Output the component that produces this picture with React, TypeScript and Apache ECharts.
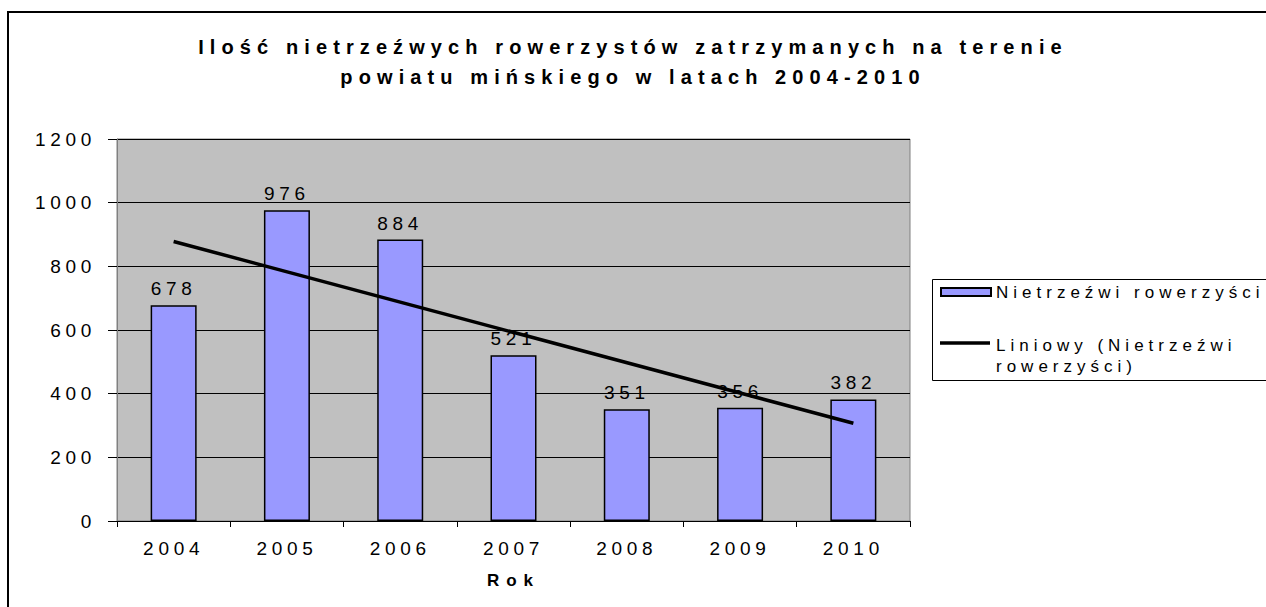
import React, { useEffect, useRef } from "react";
import * as echarts from "echarts";

const titleText = "Ilość nietrzeźwych rowerzystów zatrzymanych na terenie\npowiatu mińskiego w latach 2004-2010";
const years = ["2004", "2005", "2006", "2007", "2008", "2009", "2010"];
const riders = [678, 976, 884, 521, 351, 356, 382];
const trend = [878, null, null, null, null, null, 307];
const barName = "Nietrzeźwi rowerzyści";
const trendName = "Liniowy (Nietrzeźwi rowerzyści)";
const trendLegendLines = ["Liniowy (Nietrzeźwi", "rowerzyści)"];
const xAxisName = "Rok";

const FONT = "'Liberation Sans', Arial, sans-serif";

export default function App() {
  const ref = useRef<HTMLDivElement>(null);
  useEffect(() => {
    if (!ref.current) return;
    const chart = echarts.init(ref.current, null, { renderer: "svg" });
    chart.setOption({
      animation: false,
      backgroundColor: "#ffffff",
      textStyle: { fontFamily: FONT, color: "#000" },
      title: {
        text: titleText,
        left: "center",
        top: 27,
        textStyle: { fontSize: 20, fontWeight: "bold", color: "#000", lineHeight: 30, fontFamily: FONT },
      },
      grid: {
        left: 117,
        top: 139,
        width: 793,
        height: 382,
        show: true,
        backgroundColor: "#C0C0C0",
        borderColor: "#808080",
        borderWidth: 1,
      },
      xAxis: {
        type: "category",
        data: years,
        name: xAxisName,
        nameLocation: "middle",
        nameGap: 51,
        nameTextStyle: { fontSize: 17, fontWeight: "bold", color: "#000", fontFamily: FONT },
        axisLine: { lineStyle: { color: "#000", width: 1 } },
        axisTick: { show: true, length: 6, lineStyle: { color: "#000" } },
        axisLabel: { fontSize: 19, color: "#000", margin: 18, fontFamily: FONT },
      },
      yAxis: {
        type: "value",
        min: 0,
        max: 1200,
        interval: 200,
        axisLine: { show: true, lineStyle: { color: "#808080" } },
        axisTick: { show: true, length: 9, lineStyle: { color: "#000" } },
        axisLabel: { fontSize: 19, color: "#000", margin: 21, fontFamily: FONT, formatter: (v: number) => String(v) },
        splitLine: { show: true, lineStyle: { color: "#000", width: 1 } },
      },
      series: [
        {
          name: barName,
          type: "bar",
          data: riders,
          barWidth: 46,
          itemStyle: { color: "#9999FF", borderColor: "#000", borderWidth: 1.5 },
          label: { show: true, position: "top", distance: 7, fontSize: 19, color: "#000", fontFamily: FONT },
        },
        {
          name: trendName,
          type: "line",
          data: trend,
          connectNulls: true,
          symbol: "none",
          z: 5,
          lineStyle: { color: "#000", width: 3.5 },
        },
      ],
      graphic: [
        {
          type: "rect",
          shape: { x: 8, y: 12, width: 1300, height: 650 },
          style: { fill: "none", stroke: "#000", lineWidth: 2 },
          z: 100,
        },
        {
          type: "rect",
          shape: { x: 932.5, y: 279.5, width: 400, height: 101 },
          style: { fill: "#fff", stroke: "#000", lineWidth: 1 },
        },
        {
          type: "rect",
          shape: { x: 941, y: 288, width: 50, height: 8 },
          style: { fill: "#9999FF", stroke: "#000", lineWidth: 2 },
        },
        {
          type: "text",
          x: 996,
          y: 292,
          style: { text: barName, font: `17px ${FONT}`, fill: "#000", verticalAlign: "middle", align: "left" },
        },
        {
          type: "line",
          shape: { x1: 940, y1: 343, x2: 990, y2: 343 },
          style: { stroke: "#000", lineWidth: 3.5 },
        },
        {
          type: "text",
          x: 996,
          y: 334.5,
          style: {
            text: trendLegendLines.join("\n"),
            font: `17px ${FONT}`,
            lineHeight: 21,
            fill: "#000",
            verticalAlign: "top",
            align: "left",
          },
        },
      ],
    });
    return () => chart.dispose();
  }, []);
  return (
    <div style={{ position: "absolute", left: 0, top: 0, width: 1266, height: 607, overflow: "hidden" }}>
      <style>{
        "#chartbox text { letter-spacing: 4.7px; }" +
        " #chartbox text[style*='17px'] { letter-spacing: 5px; }" +
        " #chartbox text[style*='bold'] { letter-spacing: 7px; }" +
        " #chartbox text[style*='20px'] { letter-spacing: 6.1px; }"
      }</style>
      <div id="chartbox" ref={ref} style={{ width: 1266, height: 607 }} />
    </div>
  );
}
